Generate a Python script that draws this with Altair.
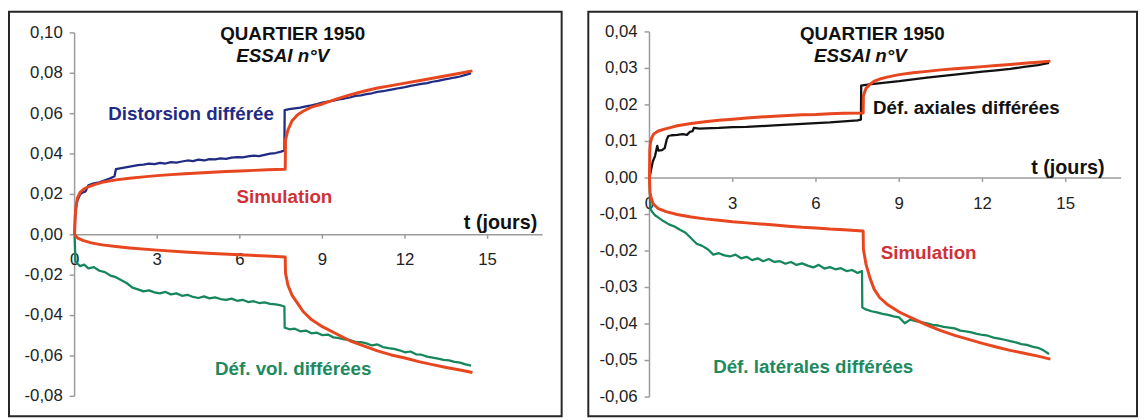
import altair as alt
import pandas as pd

FONT = "Liberation Sans"

# ---------------- Left panel data ----------------
DIST_T = [0, 0.02, 0.05, 0.1, 0.2, 0.3, 0.4, 0.5, 0.7, 0.9,
          1.1, 1.3, 1.45, 1.5, 1.7, 1.9, 2.1, 2.3, 2.5, 2.7,
          2.9, 3.1, 3.3, 3.5, 3.7, 3.9, 4.1, 4.3, 4.5, 4.7, 4.9, 5.1, 5.3, 5.5, 5.7, 5.9, 6.1, 6.3, 6.5, 6.7, 6.9, 7.1, 7.3, 7.5,
          7.62, 7.63,
          7.8, 8.0, 8.2, 8.4, 8.6, 8.8, 9.0, 9.2, 9.4, 9.6, 9.8, 10.0, 10.2, 10.4, 10.6, 10.8, 11.0, 11.2, 11.4, 11.6, 11.8,
          12.0, 12.2, 12.4, 12.6, 12.8, 13.0, 13.2, 13.4, 13.6, 13.8, 14.0, 14.2, 14.4]
DIST_V = [0, 0.008, 0.013, 0.017, 0.020, 0.021, 0.0215, 0.0245, 0.0255, 0.026,
          0.027, 0.028, 0.029, 0.0325, 0.033, 0.0335, 0.034, 0.0345, 0.0348, 0.0352,
          0.035, 0.0356, 0.0353, 0.036, 0.0358, 0.0363, 0.0368, 0.0365, 0.0372, 0.0368, 0.0375, 0.0373, 0.0378, 0.0376,
          0.0382, 0.0385, 0.0383, 0.0388, 0.0392, 0.039, 0.0396, 0.0402, 0.0405, 0.0412,
          0.0418, 0.0618,
          0.0622, 0.0626, 0.0630, 0.0636, 0.0641, 0.0647, 0.0655, 0.0660, 0.0664, 0.0671, 0.0675, 0.0680, 0.0688, 0.0691,
          0.0697, 0.0701, 0.0708, 0.0711, 0.0717, 0.0722, 0.0727, 0.0731, 0.0738, 0.0742, 0.0748, 0.0751, 0.0758, 0.0762,
          0.0769, 0.0773, 0.0779, 0.0784, 0.0792, 0.0800]

SIM_D_T = [0, 0.02, 0.05, 0.1, 0.2, 0.35, 0.5, 0.75, 1.0, 1.5, 2.0, 2.5, 3.0, 3.5, 4.0, 4.5, 5.0, 5.5, 6.0, 6.5, 7.0,
           7.65, 7.66, 7.75, 7.9, 8.1, 8.3, 8.6, 9.0, 9.5, 10.0, 10.5, 11.0, 11.5, 12.0, 12.5, 13.0, 13.5, 14.0, 14.45]
SIM_D_V = [0, 0.009, 0.014, 0.018, 0.021, 0.0228, 0.0238, 0.025, 0.026, 0.0272, 0.028, 0.0287, 0.0293, 0.0298, 0.0302,
           0.0306, 0.031, 0.0313, 0.0316, 0.0319, 0.0322,
           0.0325, 0.047, 0.052, 0.0565, 0.0595, 0.0612, 0.0632, 0.0648, 0.0672, 0.0693, 0.0711, 0.0727, 0.0739, 0.0751,
           0.0763, 0.0775, 0.0788, 0.0800, 0.0812]

SIM_VOL_T = [0, 0.1, 0.3, 0.6, 1.0, 1.5, 2.0, 3.0, 4.0, 5.0, 6.0, 7.0, 7.65, 7.66, 7.75, 7.9, 8.1, 8.3, 8.6, 9.0, 9.5,
             10.0, 10.5, 11.0, 11.5, 12.0, 12.5, 13.0, 13.5, 14.0, 14.45]
SIM_VOL_V = [0, -0.0015, -0.0028, -0.004, -0.005, -0.0058, -0.0065, -0.0076, -0.0085, -0.0093, -0.0099, -0.0105,
             -0.011, -0.019, -0.025, -0.030, -0.034, -0.038, -0.042, -0.0455, -0.049, -0.0525, -0.055, -0.0575,
             -0.0595, -0.061, -0.0628, -0.0643, -0.0657, -0.067, -0.0682]

VOL_T = [0, 0.03, 0.1, 0.2, 0.35, 0.5, 0.7, 0.9,
         1.1, 1.3, 1.5, 1.7, 1.9, 2.1, 2.3, 2.5, 2.7,
         2.9, 3.1, 3.3, 3.5, 3.7, 3.9, 4.1, 4.3, 4.5, 4.7, 4.9, 5.1, 5.3, 5.5, 5.7, 5.9, 6.1, 6.3, 6.5, 6.7, 6.9, 7.1, 7.3, 7.5,
         7.62, 7.63,
         7.8, 8.0, 8.2, 8.4, 8.6, 8.8, 9.0, 9.2, 9.4, 9.6, 9.8, 10.0, 10.2, 10.4, 10.6, 10.8, 11.0, 11.2, 11.4, 11.6, 11.8,
         12.0, 12.2, 12.4, 12.6, 12.8, 13.0, 13.2, 13.4, 13.6, 13.8, 14.0, 14.2, 14.4]
VOL_V = [0, -0.013, -0.0142, -0.0155, -0.0148, -0.0166, -0.016, -0.0178,
         -0.0185, -0.0202, -0.021, -0.0225, -0.024, -0.0262, -0.027, -0.028, -0.0275,
         -0.0285, -0.029, -0.0283, -0.0295, -0.029, -0.0302, -0.0297, -0.0308, -0.0313, -0.0305, -0.0315, -0.031,
         -0.0318, -0.0322, -0.0316, -0.0327, -0.0322, -0.0333, -0.0329, -0.0338, -0.0335, -0.0342, -0.0345, -0.035,
         -0.0355, -0.046,
         -0.0468, -0.0465, -0.0478, -0.0474, -0.0488, -0.0485, -0.0497, -0.0494, -0.0508, -0.0512, -0.0518, -0.0522,
         -0.053, -0.0532, -0.0538, -0.0548, -0.0543, -0.0556, -0.0561, -0.0565, -0.0572, -0.0582, -0.0578, -0.0592,
         -0.0594, -0.0603, -0.0608, -0.0613, -0.0619, -0.0622, -0.0629, -0.0633, -0.0642, -0.0648]

# ---------------- Right panel data ----------------
AX_T = [0, 0.05, 0.12, 0.2, 0.28, 0.32, 0.45, 0.55, 0.62, 0.68, 0.8, 1.0, 1.2, 1.35, 1.45, 1.55, 1.6, 1.8, 2.0, 2.5,
        3.0, 3.5, 4.0, 4.5, 5.0, 5.5, 6.0, 6.5, 7.0, 7.5, 7.62, 7.63, 7.8, 8.0, 8.5, 9.0, 9.5, 10.0, 10.5, 11.0,
        11.5, 12.0, 12.5, 13.0, 13.5, 14.0, 14.4]
AX_V = [0, 0.002, 0.0045, 0.006, 0.0088, 0.0075, 0.0076, 0.0082, 0.0105, 0.0115, 0.0117, 0.0118, 0.012, 0.0118,
        0.0126, 0.0128, 0.0137, 0.0135, 0.0136, 0.0137, 0.0139, 0.014, 0.0142, 0.0144, 0.0146, 0.0148, 0.015,
        0.0152, 0.0155, 0.0158, 0.016, 0.0253, 0.0255, 0.0257, 0.0261, 0.0265, 0.027, 0.0275, 0.0279, 0.0283,
        0.0287, 0.0291, 0.0295, 0.0299, 0.0304, 0.0309, 0.0315]

SIM_AX_T = [0, 0.01, 0.03, 0.08, 0.15, 0.3, 0.5, 0.75, 1.0, 1.5, 2.0, 2.5, 3.0, 3.5, 4.0, 4.5, 5.0, 5.5, 6.0, 6.5,
            7.0, 7.7, 7.71, 7.8, 7.95, 8.1, 8.3, 8.6, 9.0, 9.5, 10.0, 10.5, 11.0, 11.5, 12.0, 12.5, 13.0, 13.5,
            14.0, 14.45]
SIM_AX_V = [0, 0.0075, 0.0095, 0.011, 0.012, 0.0128, 0.0133, 0.0138, 0.0143, 0.0149, 0.0154, 0.0158, 0.0161,
            0.0164, 0.0167, 0.0169, 0.0171, 0.0173, 0.0174, 0.0176, 0.0177, 0.0178, 0.0225, 0.0245, 0.0257, 0.0265,
            0.0271, 0.0277, 0.0283, 0.0288, 0.0292, 0.0296, 0.0299, 0.0302, 0.0305, 0.0308, 0.0311, 0.0314, 0.0317,
            0.032]

SIM_LAT_T = [0, 0.02, 0.08, 0.15, 0.3, 0.6, 1.0, 1.5, 2.0, 2.5, 3.0, 3.5, 4.0, 4.5, 5.0, 5.5, 6.0, 6.5, 7.0, 7.7,
             7.71, 7.8, 7.95, 8.1, 8.3, 8.6, 9.0, 9.5, 10.0, 10.5, 11.0, 11.5, 12.0, 12.5, 13.0, 13.5, 14.0, 14.45]
SIM_LAT_V = [0, -0.004, -0.0062, -0.0072, -0.0083, -0.0092, -0.01, -0.0107, -0.0112, -0.0116, -0.012, -0.0123,
             -0.0126, -0.0129, -0.0132, -0.0135, -0.0137, -0.014, -0.0142, -0.0145, -0.0195, -0.0235, -0.0275,
             -0.0305, -0.0328, -0.0348, -0.0367, -0.0385, -0.0403, -0.0418, -0.0431, -0.0442, -0.0453, -0.0463,
             -0.0472, -0.048, -0.0488, -0.0496]

LAT_T = [0, 0.03, 0.1, 0.2, 0.35, 0.5, 0.7, 0.9,
         1.1, 1.3, 1.5, 1.7, 1.9, 2.1, 2.3, 2.5, 2.7,
         2.9, 3.1, 3.3, 3.5, 3.7, 3.9, 4.1, 4.3, 4.5, 4.7, 4.9, 5.1, 5.3, 5.5, 5.7, 5.9, 6.1, 6.3, 6.5, 6.7, 6.9, 7.1, 7.3, 7.5,
         7.66, 7.67,
         7.8, 8.0, 8.2, 8.4, 8.6, 8.8, 9.0, 9.2, 9.4, 9.6, 9.8, 10.0, 10.2, 10.4, 10.6, 10.8, 11.0, 11.2, 11.4, 11.6, 11.8,
         12.0, 12.2, 12.4, 12.6, 12.8, 13.0, 13.2, 13.4, 13.6, 13.8, 14.0, 14.2, 14.4]
LAT_V = [0, -0.0085, -0.0093, -0.0102, -0.011, -0.0118, -0.0127, -0.0133,
         -0.0142, -0.015, -0.0165, -0.018, -0.0186, -0.0195, -0.021, -0.0206, -0.0212,
         -0.0215, -0.021, -0.022, -0.0216, -0.0225, -0.022, -0.0228, -0.0222, -0.023, -0.0228, -0.0235, -0.023,
         -0.0238, -0.0234, -0.024, -0.0245, -0.0238, -0.0248, -0.0244, -0.025, -0.0247, -0.0255, -0.0252, -0.026,
         -0.0255, -0.0355,
         -0.036, -0.0365, -0.0368, -0.0372, -0.0375, -0.0379, -0.0382, -0.0398, -0.0388, -0.0392, -0.0395, -0.0398,
         -0.0402, -0.0404, -0.0408, -0.041, -0.0412, -0.0418, -0.042, -0.0423, -0.0427, -0.043, -0.0432, -0.0437,
         -0.044, -0.0443, -0.0447, -0.045, -0.0455, -0.0457, -0.0462, -0.0465, -0.0472, -0.0482]

# ---------------- Axes ----------------
X_TICKS = [0, 3, 6, 9, 12, 15]
X_LABELS = ["0", "3", "6", "9", "12", "15"]
Y_TICKS_L = [0.10, 0.08, 0.06, 0.04, 0.02, 0.0, -0.02, -0.04, -0.06, -0.08]
Y_LABELS_L = ["0,10", "0,08", "0,06", "0,04", "0,02", "0,00", "-0,02", "-0,04", "-0,06", "-0,08"]
Y_TICKS_R = [0.04, 0.03, 0.02, 0.01, 0.0, -0.01, -0.02, -0.03, -0.04, -0.05, -0.06]
Y_LABELS_R = ["0,04", "0,03", "0,02", "0,01", "0,00", "-0,01", "-0,02", "-0,03", "-0,04", "-0,05", "-0,06"]

# annotations: (text, t, v)
NOTES_L = [("QUARTIER 1950", 7.92, 0.0992), ("Distorsion différée", 4.23, 0.0598),
           ("Simulation", 7.62, 0.0188), ("t (jours)", 15.47, 0.0059), ("Déf. vol. différées", 7.94, -0.0667)]
ITAL_L = ("ESSAI n°V", 7.56, 0.0885)
NOTES_R = [("QUARTIER 1950", 8.03, 0.0393), ("Déf. axiales différées", 11.42, 0.0191),
           ("t (jours)", 15.08, 0.0028), ("Simulation", 10.06, -0.0205), ("Déf. latérales différées", 5.90, -0.0518)]
ITAL_R = ("ESSAI n°V", 7.60, 0.0334)

NAVY = "#1f2b84"
RED = "#e8461f"
GREEN = "#16875a"
BLACK = "#111111"
TXT_RED = "#cf3137"
TXT_GREEN = "#1c8a5e"
NOTE_COLORS = {"QUARTIER 1950": BLACK, "Distorsion différée": NAVY, "Simulation": TXT_RED,
               "t (jours)": BLACK, "Déf. vol. différées": TXT_GREEN, "Déf. axiales différées": BLACK,
               "Déf. latérales différées": TXT_GREEN}
BORDER = "#262626"


def frame(series):
    rows = []
    for name, ts, vs in series:
        assert len(ts) == len(vs), (name, len(ts), len(vs))
        for i, (t, v) in enumerate(zip(ts, vs)):
            rows.append({"s": name, "t": t, "v": v, "i": i})
    return pd.DataFrame(rows)


def panel(w, h, xdom, ydom, yticks, ylabels, xmax, measured, sims, mcolors, notes, ital):
    xs = alt.Scale(domain=xdom, nice=False, zero=False)
    ys = alt.Scale(domain=ydom, nice=False, zero=False)

    def X(f):
        return alt.X(f, type="quantitative", scale=xs, axis=None)

    def Y(f):
        return alt.Y(f, type="quantitative", scale=ys, axis=None)

    grey = "#9c9c9c"
    layers = []
    yax = pd.DataFrame({"x": [0], "y1": [min(yticks)], "y2": [max(yticks)]})
    layers.append(alt.Chart(yax).mark_rule(color=grey, strokeWidth=1.5).encode(x=X("x"), y=Y("y1"), y2="y2"))
    xax = pd.DataFrame({"y": [0], "x1": [0], "x2": [xmax]})
    layers.append(alt.Chart(xax).mark_rule(color=grey, strokeWidth=1.5).encode(y=Y("y"), x=X("x1"), x2="x2"))
    ytk = pd.DataFrame({"v": yticks, "lab": ylabels, "z": [0] * len(yticks)})
    layers.append(alt.Chart(ytk).mark_rule(color=grey, strokeWidth=1.5, xOffset=-5).encode(
        x=X("z"), x2="z", y=Y("v")))
    layers.append(alt.Chart(ytk).mark_text(align="right", baseline="middle", dx=-12, font=FONT,
                                           fontSize=17, color="#222222").encode(x=X("z"), y=Y("v"), text="lab:N"))
    xtk = pd.DataFrame({"t": X_TICKS, "lab": X_LABELS, "z": [0] * len(X_TICKS)})
    layers.append(alt.Chart(xtk[xtk.t > 0]).mark_rule(color=grey, strokeWidth=1.5, y2Offset=4).encode(
        x=X("t"), y=Y("z"), y2="z"))
    layers.append(alt.Chart(xtk).mark_text(align="center", baseline="middle", dy=26, font=FONT,
                                           fontSize=17, color="#222222").encode(x=X("t"), y=Y("z"), text="lab:N"))

    names = [m[0] for m in measured] + [s[0] for s in sims]
    colors = mcolors + [RED] * len(sims)
    cscale = alt.Scale(domain=names, range=colors)
    layers.append(alt.Chart(frame(measured)).mark_line(strokeWidth=2.3, strokeJoin="round").encode(
        x=X("t"), y=Y("v"), color=alt.Color("s:N", scale=cscale, legend=None), order="i:Q"))
    layers.append(alt.Chart(frame(sims)).mark_line(strokeWidth=3, strokeJoin="round").encode(
        x=X("t"), y=Y("v"), color=alt.Color("s:N", scale=cscale, legend=None), order="i:Q"))

    for text, t, v in notes:
        size = 20 if text.startswith("t (") else 19
        df = pd.DataFrame({"t": [t], "v": [v], "txt": [text]})
        layers.append(alt.Chart(df).mark_text(align="center", baseline="middle", font=FONT, fontSize=size,
                                              fontWeight="bold", color=NOTE_COLORS[text]).encode(
            x=X("t"), y=Y("v"), text="txt:N"))
    df = pd.DataFrame({"t": [ital[1]], "v": [ital[2]], "txt": [ital[0]]})
    layers.append(alt.Chart(df).mark_text(align="center", baseline="middle", font=FONT, fontSize=19,
                                          fontWeight="bold", fontStyle="italic", color=BLACK).encode(
        x=X("t"), y=Y("v"), text="txt:N"))
    return alt.layer(*layers).properties(
        width=w, height=h, view=alt.ViewBackground(stroke=BORDER, strokeWidth=2, fill="white"))


left = panel(560, 410, [-2.383, 17.69], [-0.0899, 0.1105], Y_TICKS_L, Y_LABELS_L, 17,
             [("Distorsion différée", DIST_T, DIST_V), ("Déf. vol. différées", VOL_T, VOL_V)],
             [("Simulation distorsion", SIM_D_T, SIM_D_V), ("Simulation vol", SIM_VOL_T, SIM_VOL_V)],
             [NAVY, GREEN], NOTES_L, ITAL_L)

right = panel(556, 410, [-2.205, 17.57], [-0.06527, 0.04554], Y_TICKS_R, Y_LABELS_R, 17,
              [("Déf. axiales différées", AX_T, AX_V), ("Déf. latérales différées", LAT_T, LAT_V)],
              [("Simulation axiale", SIM_AX_T, SIM_AX_V), ("Simulation latérale", SIM_LAT_T, SIM_LAT_V)],
              [BLACK, GREEN], NOTES_R, ITAL_R)

chart = alt.hconcat(left, right, spacing=25, padding=0).resolve_scale(
    color="independent", x="independent", y="independent").configure_view(
    stroke=BORDER, strokeWidth=2).configure(background="white")

chart.save("out.html", embed_options={"renderer": "svg", "actions": False})
